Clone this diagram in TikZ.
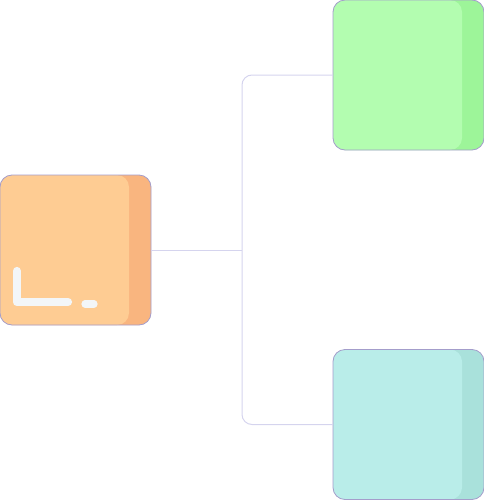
\documentclass[tikz,border=0pt]{standalone}
\usepackage{tikz}
\usetikzlibrary{calc, positioning}

\definecolor{orangeLight}{RGB}{254,204,147}
\definecolor{orangeDark}{RGB}{249,181,127}
\definecolor{greenLight}{RGB}{179,253,176}
\definecolor{greenDark}{RGB}{157,245,153}
\definecolor{tealLight}{RGB}{185,237,233}
\definecolor{tealDark}{RGB}{169,225,219}
\definecolor{boxEdge}{RGB}{164,157,203}
\definecolor{linkLine}{RGB}{213,212,238}
\definecolor{glyphWhite}{RGB}{243,246,248}

\tikzset{
  card/.style n args={2}{draw=boxEdge, line width=0.6pt, fill=#2,
    rounded corners=9pt, minimum width=113.25pt, minimum height=112.5pt,
    inner sep=0pt, outer sep=0pt,
    path picture={\fill[#1, rounded corners=9pt]
      (path picture bounding box.south west) rectangle
      ([xshift=-16.5pt]path picture bounding box.north east);}},
  link/.style={draw=linkLine, line width=0.75pt, rounded corners=7.5pt},
  glyph/.style={draw=glyphWhite, line width=6.2pt, line cap=round, line join=round}
}

\begin{document}
\begin{tikzpicture}[x=0.75pt,y=0.75pt,yscale=-1,xscale=1]
\useasboundingbox (0,0) rectangle (484,500);

% Cards
\node [card={orangeLight}{orangeDark}] (root) at (75.5,250) {};
\node [card={greenLight}{greenDark}] (upper) at (408.5,75) {};
\node [card={tealLight}{tealDark}] (lower) at (408.5,424.5) {};

% Fork connectors
\coordinate (fork) at (242,250);
\draw [link] (root.east) -- (fork);
\draw [link] (upper.west) -| (fork);
\draw [link] (lower.west) -| (fork);

% Glyph on the orange card
\draw [glyph] (16.8,271) -- (16.8,302) -- (68,302);
\draw [glyph, line width=5.4pt] (85,304) -- (94,304);

\end{tikzpicture}
\end{document}
